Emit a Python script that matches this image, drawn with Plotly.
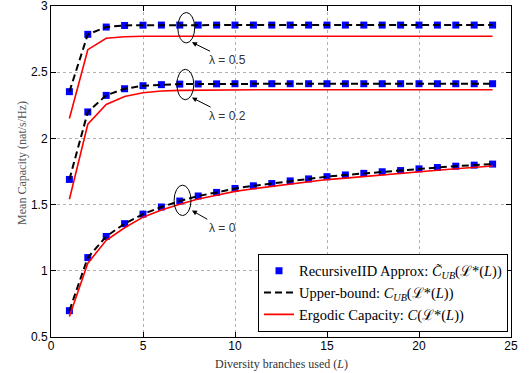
import plotly.graph_objects as go

L = list(range(1, 25))

# RecursiveIID approximation (blue squares) and upper bound (dashed), per lambda
approx_l05 = [2.353, 2.786, 2.841, 2.853, 2.855, 2.856, 2.856, 2.856, 2.856, 2.856, 2.856, 2.856,
              2.856, 2.856, 2.856, 2.856, 2.856, 2.856, 2.856, 2.856, 2.856, 2.856, 2.856, 2.856]
approx_l02 = [1.690, 2.200, 2.325, 2.375, 2.398, 2.406, 2.410, 2.411, 2.412, 2.413, 2.413, 2.413,
              2.413, 2.413, 2.413, 2.413, 2.413, 2.413, 2.413, 2.413, 2.413, 2.413, 2.413, 2.413]
approx_l0 = [0.699, 1.100, 1.259, 1.356, 1.428, 1.482, 1.527, 1.565, 1.592, 1.622, 1.642, 1.659,
             1.679, 1.694, 1.711, 1.724, 1.736, 1.748, 1.757, 1.770, 1.780, 1.790, 1.798, 1.806]
upper_l05 = list(approx_l05)
upper_l02 = list(approx_l02)
upper_l0 = list(approx_l0)

# Ergodic capacity (red)
ergodic_l05 = [2.150, 2.670, 2.756, 2.768, 2.771, 2.772, 2.772, 2.772, 2.772, 2.772, 2.772, 2.772,
               2.772, 2.772, 2.772, 2.772, 2.772, 2.772, 2.772, 2.772, 2.772, 2.772, 2.772, 2.772]
ergodic_l02 = [1.540, 2.107, 2.256, 2.316, 2.345, 2.358, 2.363, 2.365, 2.366, 2.367, 2.367, 2.368,
               2.368, 2.368, 2.368, 2.368, 2.368, 2.368, 2.368, 2.368, 2.368, 2.368, 2.368, 2.368]
ergodic_l0 = [0.655, 1.057, 1.230, 1.325, 1.405, 1.460, 1.503, 1.542, 1.570, 1.600, 1.620, 1.638,
              1.656, 1.672, 1.689, 1.700, 1.713, 1.726, 1.736, 1.749, 1.760, 1.771, 1.781, 1.791]

lambda_labels = ["λ = 0.5", "λ = 0.2", "λ = 0"]
ellipse_centres = [(7.35, 2.836), (7.30, 2.407), (7.15, 1.532)]
arrow_heads = [(7.66, 2.726), (7.66, 2.308), (7.66, 1.455)]
label_centres = [(9.58, 2.594), (9.58, 2.172), (9.31, 1.325)]

names = ["RecursiveIID Approx: <i>C̃</i><sub><i>UB</i></sub>(ℒ*(<i>L</i>))",
         "Upper-bound: <i>C</i><sub><i>UB</i></sub>(ℒ*(<i>L</i>))",
         "Ergodic Capacity: <i>C</i>(ℒ*(<i>L</i>))"]
x_title = "Diversity branches used (<i>L</i>)"
y_title = "Mean Capacity (nat/s/Hz)"

fig = go.Figure()

groups = [(approx_l05, upper_l05, ergodic_l05), (approx_l02, upper_l02, ergodic_l02),
          (approx_l0, upper_l0, ergodic_l0)]
for gi, (ap, ub, er) in enumerate(groups):
    show = gi == 0
    fig.add_trace(go.Scatter(x=L, y=ap, mode="markers", name=names[0], legendgroup="a",
                             showlegend=show,
                             marker=dict(symbol="square", size=7, color="#0000ff")))
    fig.add_trace(go.Scatter(x=L, y=ub, mode="lines", name=names[1], legendgroup="b",
                             showlegend=show,
                             line=dict(color="black", width=2, dash="7px,4px")))
    fig.add_trace(go.Scatter(x=L, y=er, mode="lines", name=names[2], legendgroup="c",
                             showlegend=show,
                             line=dict(color="#ff0000", width=1.6)))

shapes = []
for (cx, cy) in ellipse_centres:
    shapes.append(dict(type="circle", xref="x", yref="y",
                       x0=cx - 0.46, x1=cx + 0.46, y0=cy - 0.115, y1=cy + 0.115,
                       line=dict(color="black", width=1)))

annotations = []
for lab, hd, lc in zip(lambda_labels, arrow_heads, label_centres):
    annotations.append(dict(x=hd[0], y=hd[1], ax=lc[0], ay=lc[1], xref="x", yref="y",
                            axref="x", ayref="y", text=lab, showarrow=True,
                            arrowhead=2, arrowsize=1, arrowwidth=1, arrowcolor="black",
                            font=dict(family="Liberation Sans", size=12, color="#333333")))
annotations.append(dict(x=0.50, y=-0.081, xref="paper", yref="paper", text=x_title,
                        showarrow=False, xanchor="center", yanchor="middle",
                        font=dict(family="Liberation Serif", size=12, color="#333333")))
annotations.append(dict(x=-0.063, y=0.526, xref="paper", yref="paper", text=y_title,
                        showarrow=False, xanchor="center", yanchor="middle", textangle=-90,
                        font=dict(family="Liberation Serif", size=12, color="#555555")))

fig.update_layout(
    width=532, height=373,
    margin=dict(l=51, r=21, t=6, b=36, autoexpand=False),
    paper_bgcolor="white", plot_bgcolor="white",
    shapes=shapes, annotations=annotations,
    showlegend=True,
    legend=dict(x=0.9935, y=0.016, xanchor="right", yanchor="bottom",
                bgcolor="white", bordercolor="black", borderwidth=1,
                font=dict(family="Liberation Serif", size=14.5, color="black"),
                tracegroupgap=0, itemwidth=30),
    xaxis=dict(range=[0, 25], dtick=5, tick0=0, showline=True, linecolor="black", linewidth=1,
               mirror="ticks", ticks="inside", ticklen=5, tickcolor="black",
               showgrid=True, gridcolor="#b0b0b0", griddash="dot", gridwidth=1,
               zeroline=False, automargin=False, ticklabeloverflow="allow",
               ticklabelstandoff=-2,
               tickfont=dict(family="Liberation Sans", size=12, color="black")),
    yaxis=dict(range=[0.5, 3], dtick=0.5, tick0=0.5, showline=True, linecolor="black", linewidth=1,
               mirror="ticks", ticks="inside", ticklen=5, tickcolor="black",
               showgrid=True, gridcolor="#b0b0b0", griddash="dot", gridwidth=1,
               zeroline=False, automargin=False, ticklabeloverflow="allow",
               tickfont=dict(family="Liberation Sans", size=12, color="black")),
)

fig.write_html("out.html", config={"displayModeBar": False},
               post_script="document.body.style.margin='0';document.body.style.overflow='hidden';")
